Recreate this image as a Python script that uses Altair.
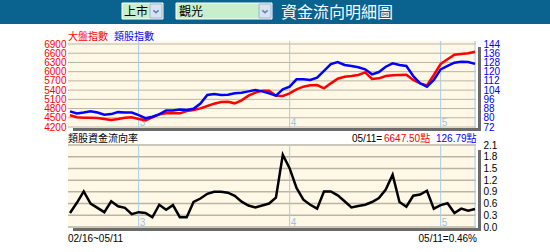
import altair as alt
import pandas as pd

# ---------------- data ----------------
taiex = [4580, 4515, 4504, 4504, 4493, 4460, 4428, 4460, 4504, 4515,
         4460, 4417, 4515, 4612, 4645, 4645, 4645, 4720, 4753, 4807,
         4883, 4959, 5013, 5024, 4970, 5067, 5219, 5317, 5382, 5382,
         5219, 5208, 5295, 5425, 5512, 5555, 5566, 5458, 5620, 5772,
         5837, 5859, 5892, 5978, 5761, 5783, 5859, 5881, 5892, 5902,
         5729, 5620, 5555, 5892, 6250, 6402, 6552, 6575, 6597, 6647.50]
sector = [85.6, 83.8, 84.6, 85.6, 84.6, 82.6, 83.2, 84.9, 84.6, 84.6,
          82.3, 79.7, 80.9, 82.9, 86.4, 86.4, 87.2, 86.7, 87.8, 92.4,
          99.8, 100.6, 99.8, 100.0, 101.2, 101.8, 102.9, 104.1, 102.9, 101.2,
          99.2, 104.7, 107.0, 113.4, 113.4, 112.8, 114.8, 120.6, 126.6, 128.4,
          125.8, 124.9, 123.8, 122.0, 117.7, 119.7, 124.3, 127.2, 125.8, 124.9,
          116.2, 109.9, 107.0, 112.8, 122.0, 125.0, 127.8, 128.6, 128.4, 126.79]
rate = [0.36, 0.62, 0.91, 0.60, 0.49, 0.38, 0.66, 0.53, 0.49, 0.33,
        0.38, 0.36, 0.25, 0.57, 0.44, 0.56, 0.25, 0.25, 0.64, 0.73,
        0.85, 0.90, 0.90, 0.88, 0.80, 0.65, 0.55, 0.50, 0.55, 0.60,
        0.75, 1.85, 1.50, 1.00, 0.70, 0.57, 0.47, 0.91, 0.91, 0.81,
        0.66, 0.50, 0.54, 0.57, 0.64, 0.74, 0.96, 1.34, 0.64, 0.52,
        0.80, 0.83, 0.93, 0.47, 0.56, 0.61, 0.36, 0.47, 0.42, 0.46]

left_ticks = [4200, 4500, 4800, 5100, 5400, 5700, 6000, 6300, 6600, 6900]
right_ticks = [72, 80, 88, 96, 104, 112, 120, 128, 136, 144]
rate_ticks = [0.0, 0.3, 0.6, 0.9, 1.2, 1.5, 1.8, 2.1]
month_labels = ["3", "4", "5"]
month_idx = [10, 32, 54]
period = "02/16~05/11"
last_date = "05/11"
market = "上市"
industry = "觀光"
page_title = "資金流向明細圖"

# ---------------- styling ----------------
FONT = "Liberation Sans, Noto Sans CJK TC"
CJK = "Noto Sans CJK TC"
RED = "#FF0000"
BLUE = "#0000FF"
BEIGE = "#FFF8E6"
GRID = "#B9B5A5"
VLINE = "#A9CBE4"
SHADOW = "#6B6B6B"

N = len(taiex)
df = pd.DataFrame({"i": list(range(N)), "taiex": taiex, "sector": sector, "rate": rate})
one = pd.DataFrame({"k": [0]})

xs = alt.Scale(domain=[0, N - 1], range=[70, 475], nice=False, zero=False)
ys_l = alt.Scale(domain=[left_ticks[0], left_ticks[-1]], range=[127, 44], nice=False, zero=False)
ys_r = alt.Scale(domain=[right_ticks[0], right_ticks[-1]], range=[127, 44], nice=False, zero=False)
ys_b = alt.Scale(domain=[rate_ticks[0], rate_ticks[-1]], range=[227, 145], nice=False, zero=False)


def box(x, x2, y, y2, fill, stroke=None, sw=1):
    kw = dict(fill=fill)
    if stroke is not None:
        kw.update(stroke=stroke, strokeWidth=sw)
    return alt.Chart(one).mark_rect(**kw).encode(
        x=alt.value(x), x2=alt.value(x2), y=alt.value(y), y2=alt.value(y2))


def label(text, x, y, color, size, align="left", font=FONT):
    return alt.Chart(one).mark_text(
        text=text, align=align, baseline="middle", fontSize=size, color=color, font=font
    ).encode(x=alt.value(x), y=alt.value(y))


def chevron(x, y):
    return alt.Chart(one).mark_point(
        shape="M-1,-0.45L0,0.45L1,-0.45", size=28, filled=False, stroke="#3F5C8C", strokeWidth=1.6
    ).encode(x=alt.value(x), y=alt.value(y))


layers = []
# header
layers += [
    box(0, 550, 0, 24, "#0A628E"),
    box(122, 163, 3, 19, "#C8EFCB", "#FFFFFF"),
    box(150, 162, 4, 18, "#D5E3F2", "#9FB7D3"),
    chevron(156, 11.5),
    label(market, 124, 11.5, "#000000", 12, font=CJK),
    box(176, 272, 3, 19, "#C8EFCB", "#FFFFFF"),
    box(259, 271, 4, 18, "#D5E3F2", "#9FB7D3"),
    chevron(265, 11.5),
    label(industry, 179, 11.5, "#000000", 12, font=CJK),
    label(page_title, 281, 12.5, "#FFFFFF", 16, font=CJK),
]

# panel backgrounds and shadows
layers += [
    box(68, 476, 41, 128, BEIGE),
    box(478, 481, 47, 131, SHADOW),
    box(73, 481, 128, 131, SHADOW),
    box(68, 476, 146, 228, BEIGE),
    box(478, 481, 150, 231, SHADOW),
    box(73, 481, 228, 231, SHADOW),
]

# gridlines
layers.append(alt.Chart(pd.DataFrame({"v": left_ticks})).mark_rule(color=GRID, strokeWidth=1).encode(
    y=alt.Y("v:Q", scale=ys_l, axis=None), x=alt.value(68), x2=alt.value(476)))
layers.append(alt.Chart(pd.DataFrame({"v": rate_ticks})).mark_rule(color=GRID, strokeWidth=1.5).encode(
    y=alt.Y("v:Q", scale=ys_b, axis=None), x=alt.value(68), x2=alt.value(476)))

# month separators
vdf = pd.DataFrame({"i": month_idx + [N - 1]})
mdf = pd.DataFrame({"i": month_idx, "m": month_labels})
for (y0, y1, ty) in [(41, 128, 123), (146, 228, 223)]:
    layers.append(alt.Chart(vdf).mark_rule(color=VLINE, strokeWidth=1).encode(
        x=alt.X("i:Q", scale=xs, axis=None), y=alt.value(y0), y2=alt.value(y1)))
    layers.append(alt.Chart(mdf).mark_text(align="left", dx=1, baseline="middle", fontSize=10,
                                          color="#9DC3DF", font=FONT).encode(
        x=alt.X("i:Q", scale=xs, axis=None), y=alt.value(ty), text="m:N"))

axis_common = dict(domain=False, ticks=False, grid=False, title=None, labelFont=FONT,
                   labelFontSize=10, labelOverlap=False, labelPadding=1)

# lines
layers.append(alt.Chart(df).mark_line(color=RED, strokeWidth=2.5).encode(
    x=alt.X("i:Q", scale=xs, axis=None),
    y=alt.Y("taiex:Q", scale=ys_l, axis=alt.Axis(orient="left", offset=-67, values=left_ticks,
                                                 format="d", labelColor=RED, **axis_common))))
layers.append(alt.Chart(df).mark_line(color=BLUE, strokeWidth=2.5).encode(
    x=alt.X("i:Q", scale=xs, axis=None),
    y=alt.Y("sector:Q", scale=ys_r, axis=alt.Axis(orient="right", offset=-68, values=right_ticks,
                                                  format="d", labelColor=BLUE, **axis_common))))
layers.append(alt.Chart(df).mark_line(color="#000000", strokeWidth=2.5).encode(
    x=alt.X("i:Q", scale=xs, axis=None),
    y=alt.Y("rate:Q", scale=ys_b, axis=alt.Axis(orient="right", offset=-68, values=rate_ticks,
                                                format=".1f", labelColor="#000000", **axis_common))))

# texts
layers += [
    label("大盤指數", 68, 36.5, RED, 10),
    label("類股指數", 114, 36.5, BLUE, 10),
    label("類股資金流向率", 68, 138.5, "#000000", 10),
    label(f"{last_date}=", 352, 138.5, "#000000", 10),
    label(f"{taiex[-1]:.2f}點", 384, 138.5, RED, 10),
    label(f"{sector[-1]:.2f}點", 436, 138.5, BLUE, 10),
    label(period, 68, 238.5, "#000000", 10),
    label(f"{last_date}={rate[-1]:.2f}%", 477, 238.5, "#000000", 10, align="right"),
]

chart = alt.layer(*layers).resolve_scale(y="independent").properties(
    width=550, height=252, padding=0, background="white",
    autosize=alt.AutoSizeParams(type="none"),
).configure_view(strokeWidth=0)

chart.save("out.html", embed_options={"renderer": "svg", "actions": False})
